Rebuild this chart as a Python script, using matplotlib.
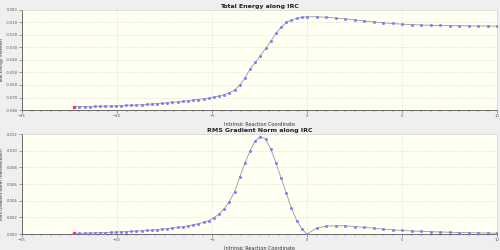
import matplotlib
matplotlib.use('Agg')
from matplotlib import pyplot as plt
from matplotlib.ticker import MultipleLocator

# IRC coordinate (reverse branch, TS at 0, forward branch)
irc_x = [-12.25, -11.98, -11.71, -11.43, -11.16, -10.89, -10.62, -10.34, -10.07, -9.80,
         -9.53, -9.26, -8.98, -8.71, -8.44, -8.17, -7.90, -7.62, -7.35, -7.08,
         -6.81, -6.53, -6.26, -5.99, -5.72, -5.44, -5.17, -4.90, -4.63, -4.36,
         -4.08, -3.81, -3.54, -3.27, -2.99, -2.72, -2.45, -2.18, -1.91, -1.63,
         -1.36, -1.09, -0.82, -0.54, -0.27, 0.00,
         0.5, 1.0, 1.5, 2.0, 2.5, 3.0, 3.5, 4.0, 4.5, 5.0,
         5.5, 6.0, 6.5, 7.0, 7.5, 8.0, 8.5, 9.0, 9.5, 10.0]

energy = [-0.0775, -0.0774, -0.0773, -0.0772, -0.0771, -0.0770, -0.0769, -0.0768, -0.0767, -0.0765,
          -0.0763, -0.0761, -0.0760, -0.0758, -0.0755, -0.0752, -0.0749, -0.0746, -0.0743, -0.0739,
          -0.0735, -0.0731, -0.0726, -0.0721, -0.0716, -0.0710, -0.0704, -0.0697, -0.0688, -0.0677,
          -0.0662, -0.0640, -0.0600, -0.0545, -0.0470, -0.0420, -0.0365, -0.0307, -0.0250, -0.0185,
          -0.0138, -0.0100, -0.0080, -0.0066, -0.0058, -0.0054,
          -0.0054, -0.0058, -0.0064, -0.0071, -0.0079, -0.0087, -0.0095, -0.0102, -0.0108, -0.0113,
          -0.0117, -0.0120, -0.0122, -0.0124, -0.0125, -0.0126, -0.0127, -0.0128, -0.0128, -0.0129]

rms_grad = [0.00008, 0.00009, 0.00011, 0.00012, 0.00014, 0.00016, 0.00018, 0.00020, 0.00023, 0.00026,
            0.00029, 0.00032, 0.00035, 0.00039, 0.00043, 0.00048, 0.00053, 0.00059, 0.00065, 0.00072,
            0.00080, 0.00089, 0.00099, 0.00110, 0.00123, 0.00140, 0.00162, 0.00195, 0.00240, 0.00300,
            0.00390, 0.00510, 0.00680, 0.00850, 0.01000, 0.01120, 0.01170, 0.01140, 0.01020, 0.00850,
            0.00670, 0.00490, 0.00310, 0.00160, 0.00060, 0.00000,
            0.00069, 0.00093, 0.00100, 0.00098, 0.00090, 0.00080, 0.00070, 0.00060, 0.00050, 0.00043,
            0.00037, 0.00032, 0.00028, 0.00024, 0.00021, 0.00018, 0.00016, 0.00014, 0.00012, 0.00010]

titles = ['Total Energy along IRC', 'RMS Gradient Norm along IRC']
ylabels = ['Total Energy (Hartree)', 'RMS Gradient Norm (Hartree/Bohr)']
xlabel = 'Intrinsic Reaction Coordinate'

fig = plt.figure(figsize=(5, 2.5), dpi=100)
fig.patch.set_facecolor('#efefef')

ax1 = fig.add_axes([0.044, 0.56, 0.950, 0.40])
ax2 = fig.add_axes([0.044, 0.064, 0.950, 0.40])

for ax, ydata, title, ylab in [(ax1, energy, titles[0], ylabels[0]),
                               (ax2, rms_grad, titles[1], ylabels[1])]:
    ax.set_facecolor('#fffff2')
    ax.plot(irc_x, ydata, color='#9a9a9a', lw=0.6, zorder=2)
    ax.plot(irc_x[1:], ydata[1:], ls='none', marker='s', ms=1.0,
            mfc='#7b7bff', mec='#7b7bff', zorder=3)
    ax.plot(irc_x[:1], ydata[:1], ls='none', marker='s', ms=1.6,
            mfc='#e0407a', mec='#e0407a', zorder=4)
    ax.set_xlim(-15, 10)
    ax.xaxis.set_major_locator(MultipleLocator(5))
    ax.xaxis.set_minor_locator(MultipleLocator(0.5))
    ax.grid(True, which='major', color='#d8d8d8', ls=':', lw=0.6)
    ax.tick_params(labelsize=2.7, length=2, width=0.4, pad=1, colors='#555555')
    ax.tick_params(which='minor', length=1.2, width=0.3, colors='#555555')
    for side in ['left', 'bottom']:
        ax.spines[side].set_color('#555555')
        ax.spines[side].set_linewidth(0.6)
    for side in ['top', 'right']:
        ax.spines[side].set_color('#d0d0d0')
        ax.spines[side].set_linewidth(0.4)
    ax.set_xlabel(xlabel, fontsize=3.5, labelpad=3, color='#333333')
    ax.set_ylabel(ylab, fontsize=3.0, color='#333333')
    ax.yaxis.set_label_coords(-0.037, 0.5)
    ax.set_title(title, fontsize=4.5, fontweight='bold', pad=1.5, color='#222222')

ax1.set_ylim(-0.080, 0.0)
ax1.yaxis.set_major_locator(MultipleLocator(0.01))
ax1.yaxis.set_major_formatter(plt.FormatStrFormatter('%.3f'))
ax2.set_ylim(0.0, 0.012)
ax2.yaxis.set_major_locator(MultipleLocator(0.002))
ax2.yaxis.set_major_formatter(plt.FormatStrFormatter('%.3f'))

fig.savefig('out.png', dpi=100, facecolor=fig.get_facecolor())
